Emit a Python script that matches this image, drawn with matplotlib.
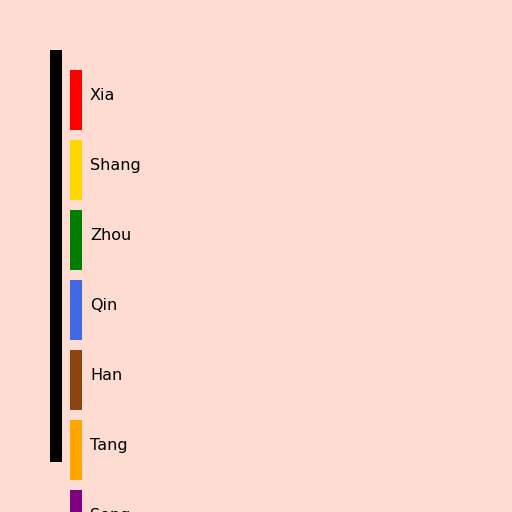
import matplotlib
matplotlib.use("Agg")
import matplotlib.pyplot as plt

dynasties = ["Xia", "Shang", "Zhou", "Qin", "Han", "Tang", "Song"]
colors = ["#ff0000", "#ffd700", "#008000", "#4169e1", "#8b4513", "#ffa500", "#800080"]

BG = "#fedcd2"

def main():
    fig = plt.figure(figsize=(5.12, 5.12), dpi=100, facecolor=BG)
    ax = fig.add_axes([0, 0, 1, 1])
    ax.set_facecolor(BG)
    ax.set_xlim(0, 512)
    ax.set_ylim(512, 0)
    ax.axis("off")

    # timeline spine
    ax.bar(56, 412, width=12, bottom=50, color="black", align="center")

    step, h = 70, 60
    for i, (name, c) in enumerate(zip(dynasties, colors)):
        top = 70 + i * step
        ax.bar(76, h, width=12, bottom=top, color=c, align="center")
        ax.text(90, top + h / 2, name, fontsize=11.5, va="baseline",
                ha="left", color="black", family="DejaVu Sans")

    fig.savefig("out.png", dpi=100, facecolor=BG)

if __name__ == "__main__":
    main()
